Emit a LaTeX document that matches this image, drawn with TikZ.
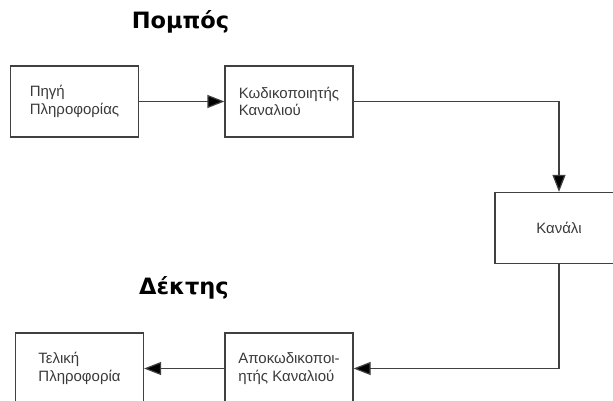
\documentclass[tikz,border=0pt]{standalone}
\usepackage{fontspec}
\setmainfont{Liberation Sans}
\newfontfamily\titlefont{DejaVu Sans}
\usetikzlibrary{arrows.meta}
\definecolor{linegray}{HTML}{404040}
\definecolor{textgray}{HTML}{3A3A3A}

\begin{document}
\begin{tikzpicture}[x=1pt,y=-1pt,
	block/.style={draw=linegray, line width=1.2pt, minimum width=128pt, minimum height=71pt,
		align=left, text=textgray, font=\fontsize{15}{17.5}\selectfont, inner sep=0pt},
	title/.style={font=\titlefont\bfseries\fontsize{22.5}{26}\selectfont, anchor=base},
	flow/.style={draw=linegray, line width=1.2pt, -{Triangle[length=17pt,width=13pt,fill=black]}}]
	\clip (0,0) rectangle (613,401);
	% transmitter
	\node[title] (tx) at (180.5,29) {Πομπός};
	\node[block] (source) at (74.5,101.5) {Πηγή\\Πληροφορίας};
	\node[block] (encoder) at (289,101.5) {Κωδικοποιητής\\Καναλιού};
	% channel
	\node[block, align=center] (channel) at (559,228) {Κανάλι};
	% receiver
	\node[title] (rx) at (184,294) {Δέκτης};
	\node[block] (decoder) at (289,368.5) {Αποκωδικοποι-\\ητής Καναλιού};
	\node[block] (sink) at (79.5,368.5) {Τελική\\Πληροφορία};
	% connections
	\draw[flow] (source) -- (encoder);
	\draw[flow] (encoder.east) -| (channel.north);
	\draw[flow] (channel.south) |- (decoder.east);
	\draw[flow] (decoder) -- (sink);
\end{tikzpicture}
\end{document}
